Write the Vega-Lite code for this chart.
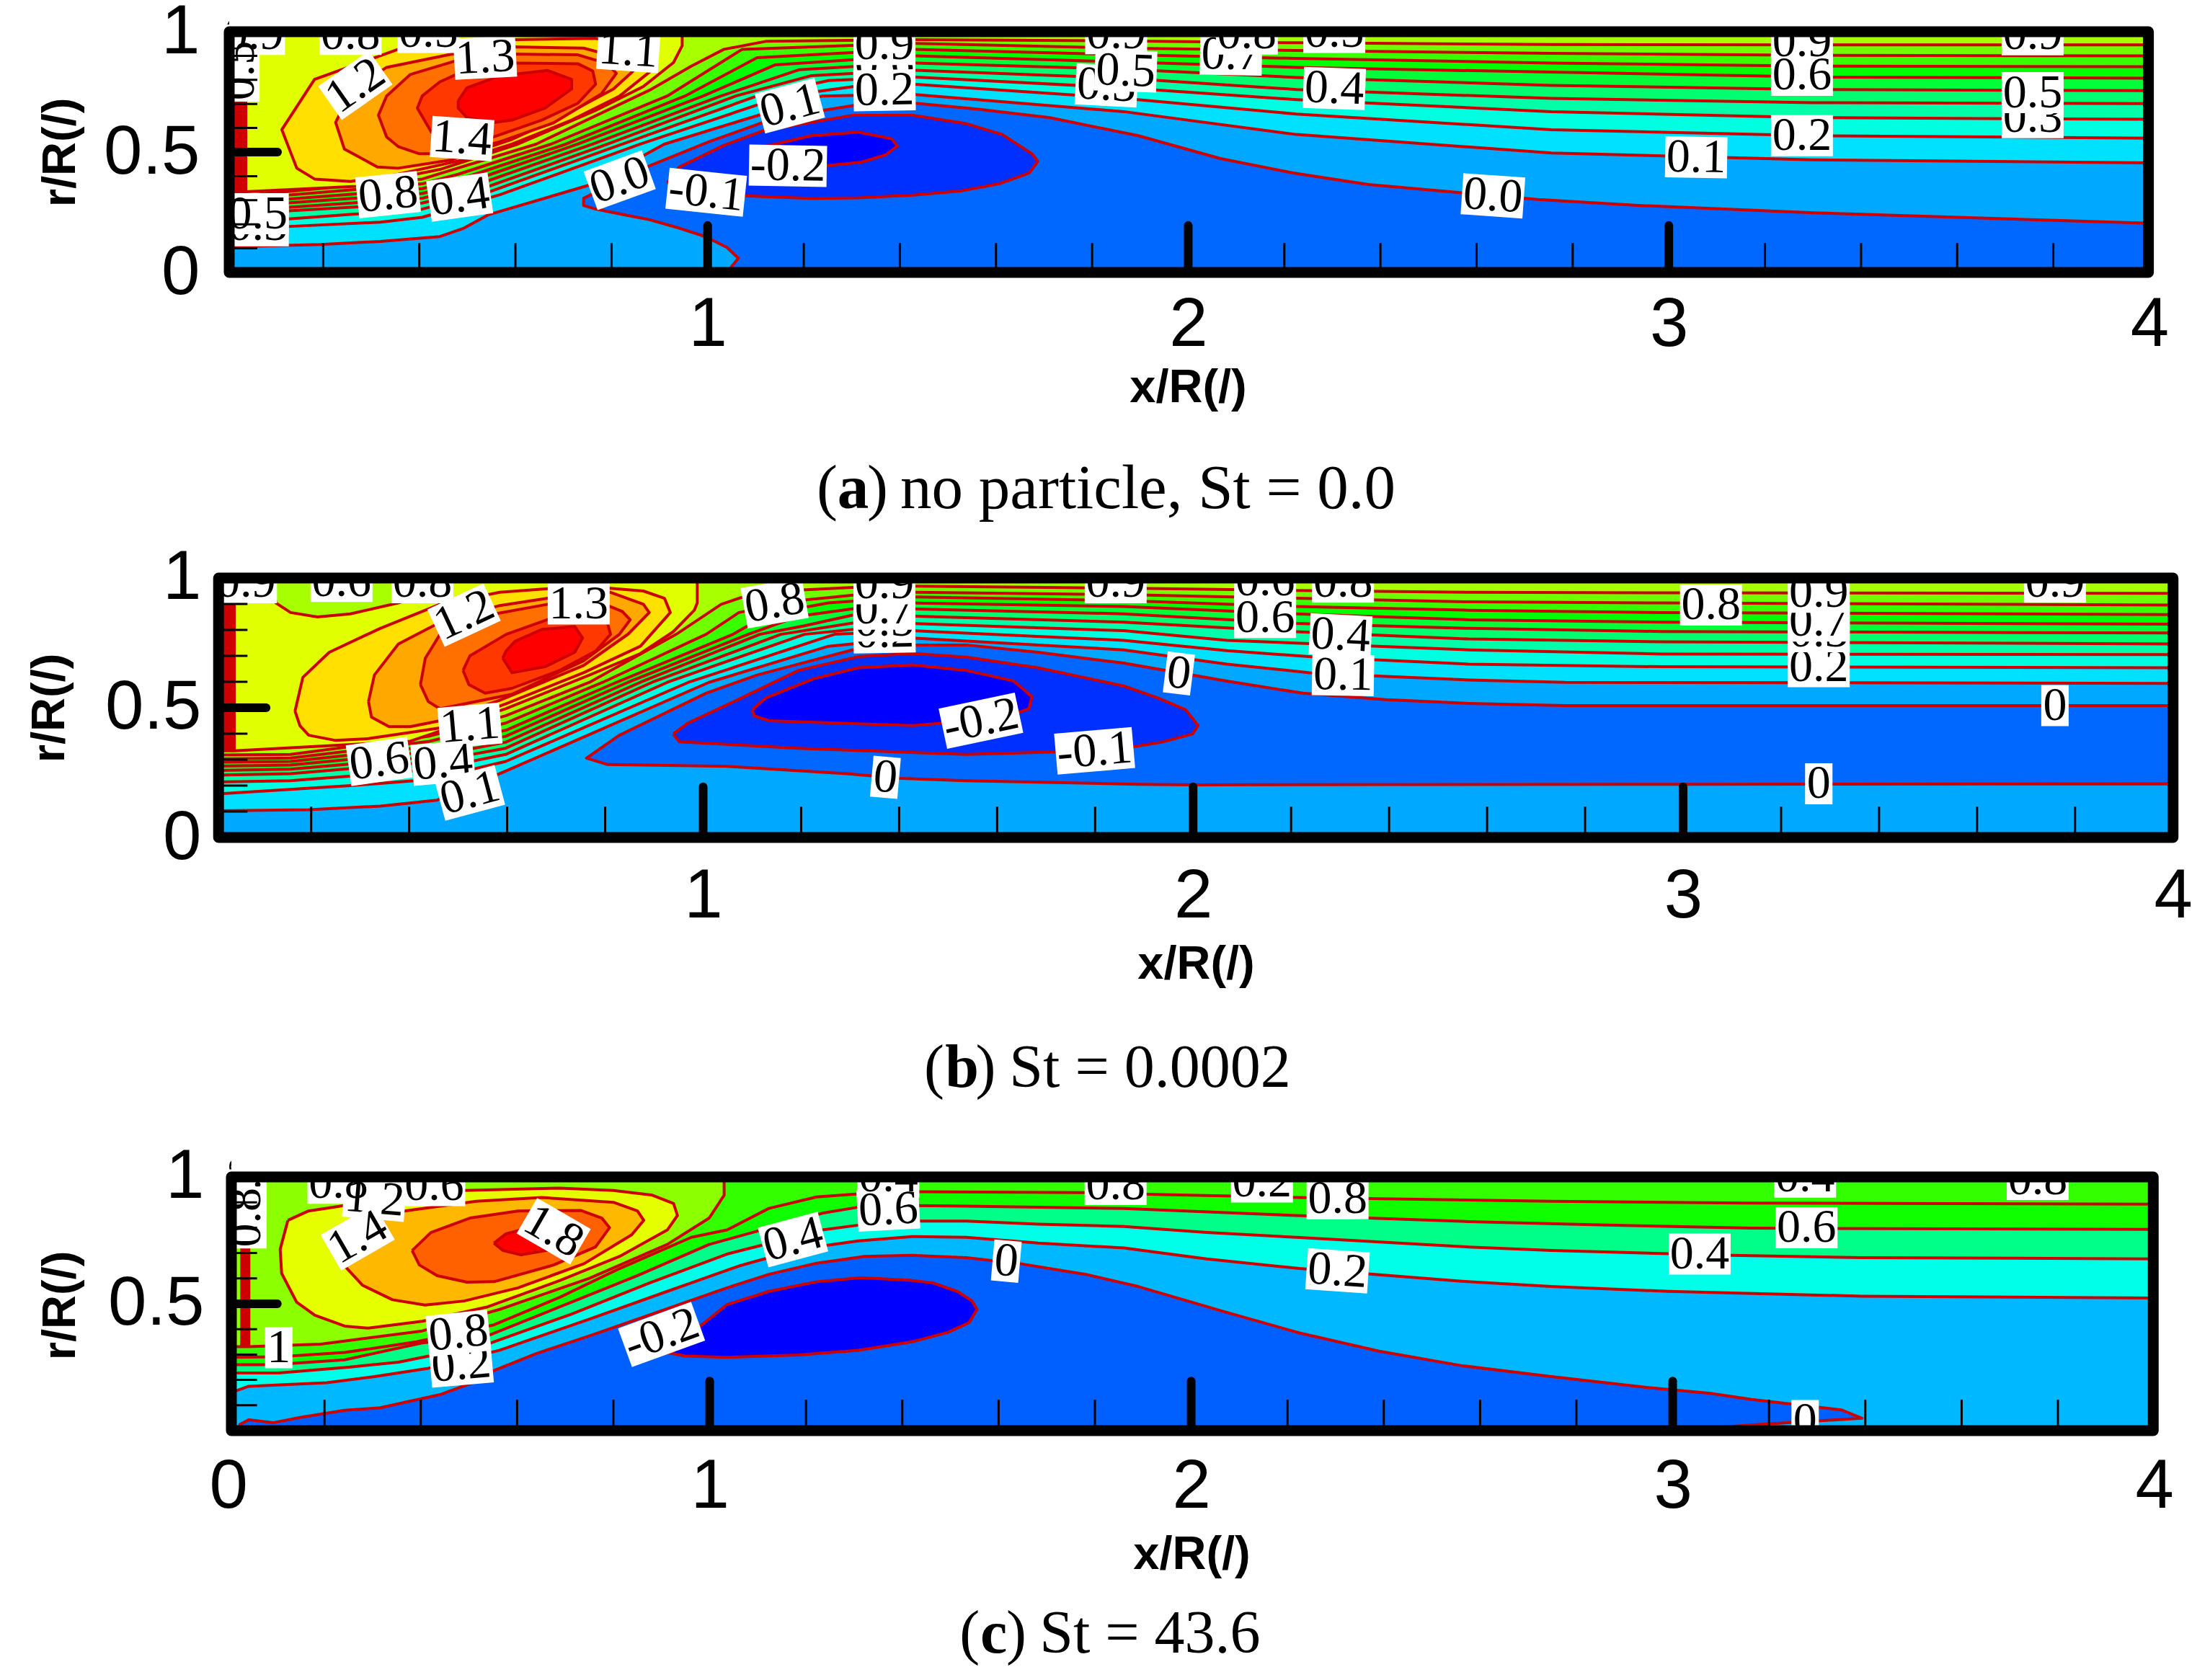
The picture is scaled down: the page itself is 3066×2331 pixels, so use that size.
{
"$schema":"https://vega.github.io/schema/vega-lite/v6.json",
"background":"white",
"padding":{"left":36,"top":-4,"right":0,"bottom":0},
"config":{"view":{"stroke":null},
"text":{"font":"Liberation Serif","fontSize":66,"fill":"black"},
"line":{"stroke":"#cc0000","strokeWidth":4,"strokeJoin":"round"},
"point":{"filled":true,"fill":"white","size":3249,"opacity":1,"strokeWidth":0},
"axis":{"grid":false,"domain":false,"ticks":false,"labelFont":"Liberation Sans","labelFontSize":96,"labelColor":"black","labelFlush":false,"labelOverlap":false,"labelBound":false,"titleFont":"Liberation Sans","titleFontSize":65,"titleFontWeight":"bold","titleColor":"black","titleAlign":"center","titleBaseline":"middle","format":"~g"}},
"datasets":{
"xMinor":[{"x":0.2},{"x":0.4},{"x":0.6},{"x":0.8},{"x":1.2},{"x":1.4},{"x":1.6},{"x":1.8},{"x":2.2},{"x":2.4},{"x":2.6},{"x":2.8},{"x":3.2},{"x":3.4},{"x":3.6},{"x":3.8}],
"xMajor":[{"x":1},{"x":2},{"x":3}],
"yMinor":[{"y":0.1},{"y":0.2},{"y":0.3},{"y":0.4},{"y":0.6},{"y":0.7},{"y":0.8},{"y":0.9}],
"yMajor":[{"y":0.5}],
"aMask":[{"x":0.0045,"x2":4.03,"y":1,"y2":1.13},{"x":-0.03,"x2":0.0045,"y":-0.03,"y2":1.03}],
"bMask":[{"x":0.011,"x2":4.01,"y":1,"y2":1.13},{"x":-0.0011,"x2":0.011,"y":-0.03,"y2":1.03}],
"cMask":[{"x":0.0066,"x2":4.04,"y":1,"y2":1.13},{"x":-0.0323,"x2":0.0066,"y":-0.03,"y2":1.03},{"x":0.0066,"x2":3.998,"y":-0.08,"y2":0}],
"aContours":[
{"c":"base","v":-0.1,"x":0,"y":0},{"c":"base","v":-0.1,"x":4,"y":0},{"c":"base","v":-0.1,"x":4,"y":1},{"c":"base","v":-0.1,"x":0,"y":1},
{"c":"l0","v":0,"x":0,"y":0},{"c":"l0","v":0,"x":1.04,"y":0},{"c":"l0","v":0,"x":1.064,"y":0.059},{"c":"l0","v":0,"x":1.04,"y":0.104},{"c":"l0","v":0,"x":0.995,"y":0.149},{"c":"l0","v":0,"x":0.941,"y":0.184},{"c":"l0","v":0,"x":0.879,"y":0.219},{"c":"l0","v":0,"x":0.817,"y":0.243},{"c":"l0","v":0,"x":0.767,"y":0.263},{"c":"l0","v":0,"x":0.742,"y":0.278},{"c":"l0","v":0,"x":0.742,"y":0.308},{"c":"l0","v":0,"x":0.879,"y":0.443},{"c":"l0","v":0,"x":1.003,"y":0.543},{"c":"l0","v":0,"x":1.115,"y":0.623},{"c":"l0","v":0,"x":1.239,"y":0.673},{"c":"l0","v":0,"x":1.308,"y":0.695},{"c":"l0","v":0,"x":1.432,"y":0.703},{"c":"l0","v":0,"x":1.563,"y":0.678},{"c":"l0","v":0,"x":1.712,"y":0.643},{"c":"l0","v":0,"x":1.896,"y":0.568},{"c":"l0","v":0,"x":2.067,"y":0.473},{"c":"l0","v":0,"x":2.218,"y":0.413},{"c":"l0","v":0,"x":2.375,"y":0.365},{"c":"l0","v":0,"x":2.727,"y":0.303},{"c":"l0","v":0,"x":2.942,"y":0.278},{"c":"l0","v":0,"x":3.301,"y":0.248},{"c":"l0","v":0,"x":4,"y":0.204},{"c":"l0","v":0,"x":4,"y":1},{"c":"l0","v":0,"x":0,"y":1},
{"c":"m1","v":-0.2,"x":0.916,"y":0.373},{"c":"m1","v":-0.2,"x":0.941,"y":0.438},{"c":"m1","v":-0.2,"x":1.034,"y":0.528},{"c":"m1","v":-0.2,"x":1.115,"y":0.588},{"c":"m1","v":-0.2,"x":1.302,"y":0.653},{"c":"m1","v":-0.2,"x":1.426,"y":0.653},{"c":"m1","v":-0.2,"x":1.538,"y":0.618},{"c":"m1","v":-0.2,"x":1.613,"y":0.573},{"c":"m1","v":-0.2,"x":1.675,"y":0.493},{"c":"m1","v":-0.2,"x":1.687,"y":0.461},{"c":"m1","v":-0.2,"x":1.669,"y":0.413},{"c":"m1","v":-0.2,"x":1.606,"y":0.368},{"c":"m1","v":-0.2,"x":1.525,"y":0.338},{"c":"m1","v":-0.2,"x":1.426,"y":0.321},{"c":"m1","v":-0.2,"x":1.314,"y":0.31},{"c":"m1","v":-0.2,"x":1.215,"y":0.308},{"c":"m1","v":-0.2,"x":1.078,"y":0.318},{"c":"m1","v":-0.2,"x":0.941,"y":0.348},{"c":"m1","v":-0.2,"x":0.916,"y":0.373},
{"c":"m2","v":-0.3,"x":1.121,"y":0.524},{"c":"m2","v":-0.3,"x":1.215,"y":0.568},{"c":"m2","v":-0.3,"x":1.314,"y":0.583},{"c":"m2","v":-0.3,"x":1.383,"y":0.555},{"c":"m2","v":-0.3,"x":1.395,"y":0.525},{"c":"m2","v":-0.3,"x":1.37,"y":0.488},{"c":"m2","v":-0.3,"x":1.32,"y":0.458},{"c":"m2","v":-0.3,"x":1.246,"y":0.443},{"c":"m2","v":-0.3,"x":1.14,"y":0.433},{"c":"m2","v":-0.3,"x":1.121,"y":0.524},
{"c":"p1","v":0.1,"x":0,"y":0.106},{"c":"p1","v":0.1,"x":0.195,"y":0.116},{"c":"p1","v":0.1,"x":0.319,"y":0.129},{"c":"p1","v":0.1,"x":0.443,"y":0.149},{"c":"p1","v":0.1,"x":0.493,"y":0.184},{"c":"p1","v":0.1,"x":0.543,"y":0.239},{"c":"p1","v":0.1,"x":0.754,"y":0.363},{"c":"p1","v":0.1,"x":0.91,"y":0.533},{"c":"p1","v":0.1,"x":1.065,"y":0.628},{"c":"p1","v":0.1,"x":1.239,"y":0.733},{"c":"p1","v":0.1,"x":1.426,"y":0.74},{"c":"p1","v":0.1,"x":1.866,"y":0.668},{"c":"p1","v":0.1,"x":2.225,"y":0.573},{"c":"p1","v":0.1,"x":2.756,"y":0.496},{"c":"p1","v":0.1,"x":3.301,"y":0.468},{"c":"p1","v":0.1,"x":4,"y":0.455},{"c":"p1","v":0.1,"x":4,"y":1},{"c":"p1","v":0.1,"x":0,"y":1},
{"c":"p2","v":0.2,"x":0,"y":0.189},{"c":"p2","v":0.2,"x":0.108,"y":0.189},{"c":"p2","v":0.2,"x":0.319,"y":0.209},{"c":"p2","v":0.2,"x":0.406,"y":0.229},{"c":"p2","v":0.2,"x":0.568,"y":0.323},{"c":"p2","v":0.2,"x":0.86,"y":0.533},{"c":"p2","v":0.2,"x":1.159,"y":0.733},{"c":"p2","v":0.2,"x":1.302,"y":0.772},{"c":"p2","v":0.2,"x":1.426,"y":0.782},{"c":"p2","v":0.2,"x":1.866,"y":0.723},{"c":"p2","v":0.2,"x":2.225,"y":0.658},{"c":"p2","v":0.2,"x":2.756,"y":0.593},{"c":"p2","v":0.2,"x":3.301,"y":0.568},{"c":"p2","v":0.2,"x":4,"y":0.558},{"c":"p2","v":0.2,"x":4,"y":1},{"c":"p2","v":0.2,"x":0,"y":1},
{"c":"p3","v":0.3,"x":0,"y":0.219},{"c":"p3","v":0.3,"x":0.108,"y":0.219},{"c":"p3","v":0.3,"x":0.406,"y":0.263},{"c":"p3","v":0.3,"x":0.543,"y":0.333},{"c":"p3","v":0.3,"x":0.823,"y":0.533},{"c":"p3","v":0.3,"x":1.103,"y":0.733},{"c":"p3","v":0.3,"x":1.252,"y":0.797},{"c":"p3","v":0.3,"x":1.426,"y":0.812},{"c":"p3","v":0.3,"x":1.866,"y":0.767},{"c":"p3","v":0.3,"x":2.225,"y":0.718},{"c":"p3","v":0.3,"x":2.756,"y":0.668},{"c":"p3","v":0.3,"x":3.301,"y":0.643},{"c":"p3","v":0.3,"x":4,"y":0.636},{"c":"p3","v":0.3,"x":4,"y":1},{"c":"p3","v":0.3,"x":0,"y":1},
{"c":"p4","v":0.4,"x":0,"y":0.241},{"c":"p4","v":0.4,"x":0.406,"y":0.288},{"c":"p4","v":0.4,"x":0.531,"y":0.348},{"c":"p4","v":0.4,"x":0.792,"y":0.533},{"c":"p4","v":0.4,"x":1.059,"y":0.733},{"c":"p4","v":0.4,"x":1.215,"y":0.817},{"c":"p4","v":0.4,"x":1.426,"y":0.84},{"c":"p4","v":0.4,"x":1.866,"y":0.807},{"c":"p4","v":0.4,"x":2.225,"y":0.76},{"c":"p4","v":0.4,"x":2.756,"y":0.723},{"c":"p4","v":0.4,"x":3.301,"y":0.705},{"c":"p4","v":0.4,"x":4,"y":0.701},{"c":"p4","v":0.4,"x":4,"y":1},{"c":"p4","v":0.4,"x":0,"y":1},
{"c":"p5","v":0.5,"x":0,"y":0.253},{"c":"p5","v":0.5,"x":0.406,"y":0.308},{"c":"p5","v":0.5,"x":0.518,"y":0.363},{"c":"p5","v":0.5,"x":0.761,"y":0.533},{"c":"p5","v":0.5,"x":1.028,"y":0.733},{"c":"p5","v":0.5,"x":1.19,"y":0.842},{"c":"p5","v":0.5,"x":1.426,"y":0.87},{"c":"p5","v":0.5,"x":1.866,"y":0.844},{"c":"p5","v":0.5,"x":2.225,"y":0.81},{"c":"p5","v":0.5,"x":2.756,"y":0.777},{"c":"p5","v":0.5,"x":3.301,"y":0.76},{"c":"p5","v":0.5,"x":4,"y":0.755},{"c":"p5","v":0.5,"x":4,"y":1},{"c":"p5","v":0.5,"x":0,"y":1},
{"c":"p6","v":0.6,"x":0,"y":0.271},{"c":"p6","v":0.6,"x":0.406,"y":0.328},{"c":"p6","v":0.6,"x":0.506,"y":0.378},{"c":"p6","v":0.6,"x":0.73,"y":0.533},{"c":"p6","v":0.6,"x":0.991,"y":0.733},{"c":"p6","v":0.6,"x":1.14,"y":0.862},{"c":"p6","v":0.6,"x":1.426,"y":0.9},{"c":"p6","v":0.6,"x":1.866,"y":0.874},{"c":"p6","v":0.6,"x":2.225,"y":0.852},{"c":"p6","v":0.6,"x":2.756,"y":0.832},{"c":"p6","v":0.6,"x":3.301,"y":0.812},{"c":"p6","v":0.6,"x":4,"y":0.807},{"c":"p6","v":0.6,"x":4,"y":1},{"c":"p6","v":0.6,"x":0,"y":1},
{"c":"p7","v":0.7,"x":0,"y":0.285},{"c":"p7","v":0.7,"x":0.406,"y":0.348},{"c":"p7","v":0.7,"x":0.493,"y":0.393},{"c":"p7","v":0.7,"x":0.705,"y":0.533},{"c":"p7","v":0.7,"x":0.953,"y":0.733},{"c":"p7","v":0.7,"x":1.103,"y":0.892},{"c":"p7","v":0.7,"x":1.426,"y":0.927},{"c":"p7","v":0.7,"x":1.866,"y":0.905},{"c":"p7","v":0.7,"x":2.225,"y":0.889},{"c":"p7","v":0.7,"x":2.756,"y":0.87},{"c":"p7","v":0.7,"x":3.301,"y":0.857},{"c":"p7","v":0.7,"x":4,"y":0.855},{"c":"p7","v":0.7,"x":4,"y":1},{"c":"p7","v":0.7,"x":0,"y":1},
{"c":"p8","v":0.8,"x":0,"y":0.3},{"c":"p8","v":0.8,"x":0.406,"y":0.368},{"c":"p8","v":0.8,"x":0.481,"y":0.408},{"c":"p8","v":0.8,"x":0.674,"y":0.533},{"c":"p8","v":0.8,"x":0.916,"y":0.733},{"c":"p8","v":0.8,"x":1.072,"y":0.927},{"c":"p8","v":0.8,"x":1.426,"y":0.952},{"c":"p8","v":0.8,"x":1.866,"y":0.932},{"c":"p8","v":0.8,"x":2.225,"y":0.922},{"c":"p8","v":0.8,"x":2.756,"y":0.91},{"c":"p8","v":0.8,"x":3.301,"y":0.902},{"c":"p8","v":0.8,"x":4,"y":0.9},{"c":"p8","v":0.8,"x":4,"y":1},{"c":"p8","v":0.8,"x":0,"y":1},
{"c":"p9","v":0.9,"x":0,"y":0.313},{"c":"p9","v":0.9,"x":0.406,"y":0.388},{"c":"p9","v":0.9,"x":0.643,"y":0.533},{"c":"p9","v":0.9,"x":0.879,"y":0.757},{"c":"p9","v":0.9,"x":0.966,"y":0.857},{"c":"p9","v":0.9,"x":1.034,"y":0.927},{"c":"p9","v":0.9,"x":1.121,"y":0.96},{"c":"p9","v":0.9,"x":1.426,"y":0.967},{"c":"p9","v":0.9,"x":1.866,"y":0.962},{"c":"p9","v":0.9,"x":2.225,"y":0.954},{"c":"p9","v":0.9,"x":2.756,"y":0.947},{"c":"p9","v":0.9,"x":3.301,"y":0.945},{"c":"p9","v":0.9,"x":4,"y":0.945},{"c":"p9","v":0.9,"x":4,"y":1},{"c":"p9","v":0.9,"x":0,"y":1},
{"c":"p10","v":1.0,"x":0,"y":0.335},{"c":"p10","v":1.0,"x":0.039,"y":0.335},{"c":"p10","v":1.0,"x":0.269,"y":0.358},{"c":"p10","v":1.0,"x":0.443,"y":0.428},{"c":"p10","v":1.0,"x":0.605,"y":0.533},{"c":"p10","v":1.0,"x":0.767,"y":0.673},{"c":"p10","v":1.0,"x":0.866,"y":0.772},{"c":"p10","v":1.0,"x":0.929,"y":0.872},{"c":"p10","v":1.0,"x":0.947,"y":0.942},{"c":"p10","v":1.0,"x":0.947,"y":1},{"c":"p10","v":1.0,"x":0,"y":1},
{"c":"p11","v":1.1,"x":0.599,"y":0.967},{"c":"p11","v":1.1,"x":0.767,"y":0.972},{"c":"p11","v":1.1,"x":0.866,"y":0.932},{"c":"p11","v":1.1,"x":0.888,"y":0.847},{"c":"p11","v":1.1,"x":0.817,"y":0.733},{"c":"p11","v":1.1,"x":0.717,"y":0.633},{"c":"p11","v":1.1,"x":0.593,"y":0.533},{"c":"p11","v":1.1,"x":0.481,"y":0.463},{"c":"p11","v":1.1,"x":0.356,"y":0.408},{"c":"p11","v":1.1,"x":0.257,"y":0.378},{"c":"p11","v":1.1,"x":0.182,"y":0.388},{"c":"p11","v":1.1,"x":0.145,"y":0.433},{"c":"p11","v":1.1,"x":0.114,"y":0.593},{"c":"p11","v":1.1,"x":0.182,"y":0.802},{"c":"p11","v":1.1,"x":0.356,"y":0.927},{"c":"p11","v":1.1,"x":0.468,"y":0.957},{"c":"p11","v":1.1,"x":0.599,"y":0.967},
{"c":"p12","v":1.2,"x":0.599,"y":0.937},{"c":"p12","v":1.2,"x":0.742,"y":0.932},{"c":"p12","v":1.2,"x":0.817,"y":0.892},{"c":"p12","v":1.2,"x":0.848,"y":0.842},{"c":"p12","v":1.2,"x":0.804,"y":0.762},{"c":"p12","v":1.2,"x":0.692,"y":0.643},{"c":"p12","v":1.2,"x":0.593,"y":0.553},{"c":"p12","v":1.2,"x":0.468,"y":0.468},{"c":"p12","v":1.2,"x":0.356,"y":0.433},{"c":"p12","v":1.2,"x":0.313,"y":0.438},{"c":"p12","v":1.2,"x":0.244,"y":0.513},{"c":"p12","v":1.2,"x":0.226,"y":0.623},{"c":"p12","v":1.2,"x":0.257,"y":0.752},{"c":"p12","v":1.2,"x":0.332,"y":0.852},{"c":"p12","v":1.2,"x":0.468,"y":0.907},{"c":"p12","v":1.2,"x":0.599,"y":0.937},
{"c":"p13","v":1.3,"x":0.599,"y":0.907},{"c":"p13","v":1.3,"x":0.73,"y":0.904},{"c":"p13","v":1.3,"x":0.792,"y":0.867},{"c":"p13","v":1.3,"x":0.81,"y":0.827},{"c":"p13","v":1.3,"x":0.779,"y":0.742},{"c":"p13","v":1.3,"x":0.68,"y":0.622},{"c":"p13","v":1.3,"x":0.568,"y":0.543},{"c":"p13","v":1.3,"x":0.468,"y":0.493},{"c":"p13","v":1.3,"x":0.4,"y":0.493},{"c":"p13","v":1.3,"x":0.356,"y":0.523},{"c":"p13","v":1.3,"x":0.332,"y":0.563},{"c":"p13","v":1.3,"x":0.315,"y":0.653},{"c":"p13","v":1.3,"x":0.332,"y":0.733},{"c":"p13","v":1.3,"x":0.381,"y":0.822},{"c":"p13","v":1.3,"x":0.481,"y":0.882},{"c":"p13","v":1.3,"x":0.599,"y":0.907},
{"c":"p14","v":1.4,"x":0.599,"y":0.87},{"c":"p14","v":1.4,"x":0.73,"y":0.867},{"c":"p14","v":1.4,"x":0.761,"y":0.837},{"c":"p14","v":1.4,"x":0.767,"y":0.782},{"c":"p14","v":1.4,"x":0.73,"y":0.703},{"c":"p14","v":1.4,"x":0.655,"y":0.633},{"c":"p14","v":1.4,"x":0.555,"y":0.563},{"c":"p14","v":1.4,"x":0.468,"y":0.533},{"c":"p14","v":1.4,"x":0.425,"y":0.583},{"c":"p14","v":1.4,"x":0.396,"y":0.683},{"c":"p14","v":1.4,"x":0.406,"y":0.733},{"c":"p14","v":1.4,"x":0.443,"y":0.792},{"c":"p14","v":1.4,"x":0.493,"y":0.837},{"c":"p14","v":1.4,"x":0.599,"y":0.87},
{"c":"p15","v":1.5,"x":0.481,"y":0.713},{"c":"p15","v":1.5,"x":0.499,"y":0.767},{"c":"p15","v":1.5,"x":0.568,"y":0.817},{"c":"p15","v":1.5,"x":0.667,"y":0.839},{"c":"p15","v":1.5,"x":0.717,"y":0.802},{"c":"p15","v":1.5,"x":0.717,"y":0.762},{"c":"p15","v":1.5,"x":0.662,"y":0.683},{"c":"p15","v":1.5,"x":0.593,"y":0.633},{"c":"p15","v":1.5,"x":0.555,"y":0.623},{"c":"p15","v":1.5,"x":0.499,"y":0.643},{"c":"p15","v":1.5,"x":0.481,"y":0.683},{"c":"p15","v":1.5,"x":0.481,"y":0.713},
{"c":"strip","v":1.6,"x":0,"y":0.332},{"c":"strip","v":1.6,"x":0.039,"y":0.332},{"c":"strip","v":1.6,"x":0.039,"y":0.775},{"c":"strip","v":1.6,"x":0,"y":0.775}
],
"aLabels":[
{"t":1,"label":"0.6","x":1.368,"y":0.867,"a":0},{"t":1,"label":"0.3","x":1.83,"y":0.777,"a":3},{"t":1,"label":"0.3","x":0.064,"y":0.194,"a":0},{"t":1,"label":"0.7","x":2.089,"y":0.905,"a":1},{"t":1,"label":"0.3","x":3.757,"y":0.643,"a":0},
{"t":2,"label":"0.9","x":0.056,"y":0.989,"a":0},{"t":2,"label":"0.5","x":0.025,"y":0.838,"a":-90},{"t":2,"label":"0.8","x":0.257,"y":0.989,"a":0},{"t":2,"label":"0.5","x":0.419,"y":0.997,"a":0},{"t":2,"label":"1.3","x":0.537,"y":0.892,"a":-3},{"t":2,"label":"1.1","x":0.835,"y":0.922,"a":4},{"t":2,"label":"1.2","x":0.267,"y":0.777,"a":-35},{"t":2,"label":"1.4","x":0.489,"y":0.556,"a":4},{"t":2,"label":"0.8","x":0.335,"y":0.323,"a":-6},{"t":2,"label":"0.4","x":0.484,"y":0.313,"a":-8},{"t":2,"label":"0.0","x":0.817,"y":0.383,"a":-20},{"t":2,"label":"-0.1","x":0.997,"y":0.333,"a":6},{"t":2,"label":"-0.2","x":1.167,"y":0.443,"a":1},{"t":2,"label":"0.1","x":1.171,"y":0.693,"a":-15},{"t":2,"label":"0.9","x":1.368,"y":0.947,"a":0},{"t":2,"label":"0.2","x":1.368,"y":0.757,"a":-1},{"t":2,"label":"0.5","x":0.064,"y":0.244,"a":0},{"t":2,"label":"0.9","x":1.85,"y":0.992,"a":0},{"t":2,"label":"0.5","x":1.87,"y":0.837,"a":2},{"t":2,"label":"0.8","x":2.122,"y":0.99,"a":0},{"t":2,"label":"0.5","x":2.304,"y":0.997,"a":0},{"t":2,"label":"0.4","x":2.304,"y":0.764,"a":2},{"t":2,"label":"0.9","x":3.277,"y":0.957,"a":0},{"t":2,"label":"0.6","x":3.277,"y":0.819,"a":0},{"t":2,"label":"0.2","x":3.277,"y":0.568,"a":0},{"t":2,"label":"0.1","x":3.057,"y":0.478,"a":1},{"t":2,"label":"0.0","x":2.634,"y":0.318,"a":4},{"t":2,"label":"0.9","x":3.757,"y":0.987,"a":0},{"t":2,"label":"0.5","x":3.757,"y":0.747,"a":0}
],
"aFrame":[{"x":0.0045,"y":0,"x2":3.998,"y2":1}],
"bContours":[
{"c":"base","v":-0.1,"x":0.011,"y":0},{"c":"base","v":-0.1,"x":4,"y":0},{"c":"base","v":-0.1,"x":4,"y":1},{"c":"base","v":-0.1,"x":0.011,"y":1},
{"c":"l0","v":0,"x":0.011,"y":0},{"c":"l0","v":0,"x":4,"y":0},{"c":"l0","v":0,"x":4,"y":0.207},{"c":"l0","v":0,"x":3,"y":0.205},{"c":"l0","v":0,"x":2,"y":0.203},{"c":"l0","v":0,"x":1.888,"y":0.205},{"c":"l0","v":0,"x":1.537,"y":0.219},{"c":"l0","v":0,"x":1.403,"y":0.228},{"c":"l0","v":0,"x":1.293,"y":0.246},{"c":"l0","v":0,"x":1.049,"y":0.274},{"c":"l0","v":0,"x":0.805,"y":0.281},{"c":"l0","v":0,"x":0.762,"y":0.306},{"c":"l0","v":0,"x":0.829,"y":0.394},{"c":"l0","v":0,"x":1.006,"y":0.556},{"c":"l0","v":0,"x":1.11,"y":0.626},{"c":"l0","v":0,"x":1.22,"y":0.681},{"c":"l0","v":0,"x":1.305,"y":0.723},{"c":"l0","v":0,"x":1.427,"y":0.742},{"c":"l0","v":0,"x":1.537,"y":0.742},{"c":"l0","v":0,"x":1.683,"y":0.714},{"c":"l0","v":0,"x":1.858,"y":0.672},{"c":"l0","v":0,"x":2.069,"y":0.603},{"c":"l0","v":0,"x":2.224,"y":0.556},{"c":"l0","v":0,"x":2.393,"y":0.531},{"c":"l0","v":0,"x":2.562,"y":0.517},{"c":"l0","v":0,"x":2.759,"y":0.508},{"c":"l0","v":0,"x":4,"y":0.508},{"c":"l0","v":0,"x":4,"y":1},{"c":"l0","v":0,"x":0.011,"y":1},
{"c":"m1","v":-0.2,"x":0.939,"y":0.399},{"c":"m1","v":-0.2,"x":0.969,"y":0.441},{"c":"m1","v":-0.2,"x":1.073,"y":0.533},{"c":"m1","v":-0.2,"x":1.195,"y":0.644},{"c":"m1","v":-0.2,"x":1.317,"y":0.697},{"c":"m1","v":-0.2,"x":1.427,"y":0.709},{"c":"m1","v":-0.2,"x":1.537,"y":0.695},{"c":"m1","v":-0.2,"x":1.683,"y":0.654},{"c":"m1","v":-0.2,"x":1.858,"y":0.584},{"c":"m1","v":-0.2,"x":1.928,"y":0.538},{"c":"m1","v":-0.2,"x":1.985,"y":0.492},{"c":"m1","v":-0.2,"x":2.01,"y":0.431},{"c":"m1","v":-0.2,"x":1.999,"y":0.399},{"c":"m1","v":-0.2,"x":1.935,"y":0.367},{"c":"m1","v":-0.2,"x":1.879,"y":0.35},{"c":"m1","v":-0.2,"x":1.72,"y":0.33},{"c":"m1","v":-0.2,"x":1.537,"y":0.32},{"c":"m1","v":-0.2,"x":1.195,"y":0.344},{"c":"m1","v":-0.2,"x":0.951,"y":0.369},{"c":"m1","v":-0.2,"x":0.939,"y":0.399},
{"c":"m2","v":-0.3,"x":1.1,"y":0.492},{"c":"m2","v":-0.3,"x":1.128,"y":0.538},{"c":"m2","v":-0.3,"x":1.226,"y":0.612},{"c":"m2","v":-0.3,"x":1.317,"y":0.654},{"c":"m2","v":-0.3,"x":1.427,"y":0.665},{"c":"m2","v":-0.3,"x":1.537,"y":0.644},{"c":"m2","v":-0.3,"x":1.634,"y":0.603},{"c":"m2","v":-0.3,"x":1.671,"y":0.543},{"c":"m2","v":-0.3,"x":1.665,"y":0.496},{"c":"m2","v":-0.3,"x":1.61,"y":0.459},{"c":"m2","v":-0.3,"x":1.488,"y":0.441},{"c":"m2","v":-0.3,"x":1.427,"y":0.431},{"c":"m2","v":-0.3,"x":1.305,"y":0.439},{"c":"m2","v":-0.3,"x":1.134,"y":0.45},{"c":"m2","v":-0.3,"x":1.104,"y":0.469},{"c":"m2","v":-0.3,"x":1.1,"y":0.492},
{"c":"p1","v":0.1,"x":0.011,"y":0.103},{"c":"p1","v":0.1,"x":0.195,"y":0.107},{"c":"p1","v":0.1,"x":0.341,"y":0.121},{"c":"p1","v":0.1,"x":0.457,"y":0.144},{"c":"p1","v":0.1,"x":0.597,"y":0.256},{"c":"p1","v":0.1,"x":1.012,"y":0.598},{"c":"p1","v":0.1,"x":1.256,"y":0.737},{"c":"p1","v":0.1,"x":1.427,"y":0.769},{"c":"p1","v":0.1,"x":1.858,"y":0.723},{"c":"p1","v":0.1,"x":2.069,"y":0.668},{"c":"p1","v":0.1,"x":2.238,"y":0.635},{"c":"p1","v":0.1,"x":2.393,"y":0.621},{"c":"p1","v":0.1,"x":2.562,"y":0.607},{"c":"p1","v":0.1,"x":2.759,"y":0.598},{"c":"p1","v":0.1,"x":4,"y":0.594},{"c":"p1","v":0.1,"x":4,"y":1},{"c":"p1","v":0.1,"x":0.011,"y":1},
{"c":"p2","v":0.2,"x":0.011,"y":0.168},{"c":"p2","v":0.2,"x":0.281,"y":0.2},{"c":"p2","v":0.2,"x":0.44,"y":0.223},{"c":"p2","v":0.2,"x":0.597,"y":0.293},{"c":"p2","v":0.2,"x":0.97,"y":0.598},{"c":"p2","v":0.2,"x":1.268,"y":0.783},{"c":"p2","v":0.2,"x":1.427,"y":0.797},{"c":"p2","v":0.2,"x":1.858,"y":0.76},{"c":"p2","v":0.2,"x":2.069,"y":0.72},{"c":"p2","v":0.2,"x":2.252,"y":0.695},{"c":"p2","v":0.2,"x":2.562,"y":0.668},{"c":"p2","v":0.2,"x":2.956,"y":0.658},{"c":"p2","v":0.2,"x":4,"y":0.654},{"c":"p2","v":0.2,"x":4,"y":1},{"c":"p2","v":0.2,"x":0.011,"y":1},
{"c":"p3","v":0.3,"x":0.011,"y":0.214},{"c":"p3","v":0.3,"x":0.158,"y":0.219},{"c":"p3","v":0.3,"x":0.44,"y":0.26},{"c":"p3","v":0.3,"x":0.597,"y":0.32},{"c":"p3","v":0.3,"x":0.927,"y":0.598},{"c":"p3","v":0.3,"x":1.207,"y":0.783},{"c":"p3","v":0.3,"x":1.427,"y":0.825},{"c":"p3","v":0.3,"x":1.858,"y":0.797},{"c":"p3","v":0.3,"x":2.069,"y":0.76},{"c":"p3","v":0.3,"x":2.562,"y":0.723},{"c":"p3","v":0.3,"x":2.956,"y":0.707},{"c":"p3","v":0.3,"x":4,"y":0.705},{"c":"p3","v":0.3,"x":4,"y":1},{"c":"p3","v":0.3,"x":0.011,"y":1},
{"c":"p4","v":0.4,"x":0.011,"y":0.24},{"c":"p4","v":0.4,"x":0.158,"y":0.246},{"c":"p4","v":0.4,"x":0.44,"y":0.29},{"c":"p4","v":0.4,"x":0.597,"y":0.344},{"c":"p4","v":0.4,"x":0.896,"y":0.598},{"c":"p4","v":0.4,"x":1.159,"y":0.783},{"c":"p4","v":0.4,"x":1.317,"y":0.83},{"c":"p4","v":0.4,"x":1.427,"y":0.853},{"c":"p4","v":0.4,"x":1.858,"y":0.83},{"c":"p4","v":0.4,"x":2.21,"y":0.793},{"c":"p4","v":0.4,"x":2.562,"y":0.765},{"c":"p4","v":0.4,"x":2.956,"y":0.754},{"c":"p4","v":0.4,"x":4,"y":0.746},{"c":"p4","v":0.4,"x":4,"y":1},{"c":"p4","v":0.4,"x":0.011,"y":1},
{"c":"p5","v":0.5,"x":0.011,"y":0.258},{"c":"p5","v":0.5,"x":0.158,"y":0.263},{"c":"p5","v":0.5,"x":0.44,"y":0.31},{"c":"p5","v":0.5,"x":0.597,"y":0.367},{"c":"p5","v":0.5,"x":0.872,"y":0.598},{"c":"p5","v":0.5,"x":1.116,"y":0.783},{"c":"p5","v":0.5,"x":1.207,"y":0.816},{"c":"p5","v":0.5,"x":1.305,"y":0.857},{"c":"p5","v":0.5,"x":1.427,"y":0.881},{"c":"p5","v":0.5,"x":1.858,"y":0.862},{"c":"p5","v":0.5,"x":2.21,"y":0.825},{"c":"p5","v":0.5,"x":2.562,"y":0.806},{"c":"p5","v":0.5,"x":2.956,"y":0.794},{"c":"p5","v":0.5,"x":4,"y":0.788},{"c":"p5","v":0.5,"x":4,"y":1},{"c":"p5","v":0.5,"x":0.011,"y":1},
{"c":"p6","v":0.6,"x":0.011,"y":0.275},{"c":"p6","v":0.6,"x":0.158,"y":0.279},{"c":"p6","v":0.6,"x":0.44,"y":0.33},{"c":"p6","v":0.6,"x":0.597,"y":0.39},{"c":"p6","v":0.6,"x":0.847,"y":0.598},{"c":"p6","v":0.6,"x":1.092,"y":0.783},{"c":"p6","v":0.6,"x":1.195,"y":0.853},{"c":"p6","v":0.6,"x":1.305,"y":0.881},{"c":"p6","v":0.6,"x":1.427,"y":0.904},{"c":"p6","v":0.6,"x":1.858,"y":0.89},{"c":"p6","v":0.6,"x":2.21,"y":0.862},{"c":"p6","v":0.6,"x":2.562,"y":0.839},{"c":"p6","v":0.6,"x":2.956,"y":0.83},{"c":"p6","v":0.6,"x":4,"y":0.822},{"c":"p6","v":0.6,"x":4,"y":1},{"c":"p6","v":0.6,"x":0.011,"y":1},
{"c":"p7","v":0.7,"x":0.011,"y":0.29},{"c":"p7","v":0.7,"x":0.158,"y":0.293},{"c":"p7","v":0.7,"x":0.44,"y":0.35},{"c":"p7","v":0.7,"x":0.597,"y":0.413},{"c":"p7","v":0.7,"x":0.823,"y":0.598},{"c":"p7","v":0.7,"x":1.061,"y":0.783},{"c":"p7","v":0.7,"x":1.134,"y":0.862},{"c":"p7","v":0.7,"x":1.256,"y":0.904},{"c":"p7","v":0.7,"x":1.427,"y":0.927},{"c":"p7","v":0.7,"x":1.858,"y":0.913},{"c":"p7","v":0.7,"x":2.21,"y":0.89},{"c":"p7","v":0.7,"x":2.562,"y":0.876},{"c":"p7","v":0.7,"x":2.956,"y":0.867},{"c":"p7","v":0.7,"x":4,"y":0.859},{"c":"p7","v":0.7,"x":4,"y":1},{"c":"p7","v":0.7,"x":0.011,"y":1},
{"c":"p8","v":0.8,"x":0.011,"y":0.303},{"c":"p8","v":0.8,"x":0.158,"y":0.306},{"c":"p8","v":0.8,"x":0.44,"y":0.37},{"c":"p8","v":0.8,"x":0.597,"y":0.441},{"c":"p8","v":0.8,"x":0.795,"y":0.598},{"c":"p8","v":0.8,"x":1.006,"y":0.783},{"c":"p8","v":0.8,"x":1.073,"y":0.867},{"c":"p8","v":0.8,"x":1.195,"y":0.913},{"c":"p8","v":0.8,"x":1.317,"y":0.936},{"c":"p8","v":0.8,"x":1.427,"y":0.945},{"c":"p8","v":0.8,"x":1.858,"y":0.936},{"c":"p8","v":0.8,"x":2.21,"y":0.922},{"c":"p8","v":0.8,"x":2.562,"y":0.908},{"c":"p8","v":0.8,"x":2.956,"y":0.904},{"c":"p8","v":0.8,"x":4,"y":0.896},{"c":"p8","v":0.8,"x":4,"y":1},{"c":"p8","v":0.8,"x":0.011,"y":1},
{"c":"p9","v":0.9,"x":0.011,"y":0.318},{"c":"p9","v":0.9,"x":0.158,"y":0.32},{"c":"p9","v":0.9,"x":0.44,"y":0.39},{"c":"p9","v":0.9,"x":0.597,"y":0.469},{"c":"p9","v":0.9,"x":0.768,"y":0.598},{"c":"p9","v":0.9,"x":0.945,"y":0.783},{"c":"p9","v":0.9,"x":1.037,"y":0.899},{"c":"p9","v":0.9,"x":1.11,"y":0.945},{"c":"p9","v":0.9,"x":1.305,"y":0.964},{"c":"p9","v":0.9,"x":1.427,"y":0.969},{"c":"p9","v":0.9,"x":1.858,"y":0.961},{"c":"p9","v":0.9,"x":2.21,"y":0.952},{"c":"p9","v":0.9,"x":2.562,"y":0.945},{"c":"p9","v":0.9,"x":2.956,"y":0.943},{"c":"p9","v":0.9,"x":4,"y":0.941},{"c":"p9","v":0.9,"x":4,"y":1},{"c":"p9","v":0.9,"x":0.011,"y":1},
{"c":"p10","v":1.0,"x":0.011,"y":0.334},{"c":"p10","v":1.0,"x":0.043,"y":0.334},{"c":"p10","v":1.0,"x":0.402,"y":0.371},{"c":"p10","v":1.0,"x":0.597,"y":0.496},{"c":"p10","v":1.0,"x":0.768,"y":0.626},{"c":"p10","v":1.0,"x":0.872,"y":0.709},{"c":"p10","v":1.0,"x":0.939,"y":0.793},{"c":"p10","v":1.0,"x":0.982,"y":0.876},{"c":"p10","v":1.0,"x":0.988,"y":0.904},{"c":"p10","v":1.0,"x":0.988,"y":1},{"c":"p10","v":1.0,"x":0.011,"y":1},
{"c":"hole","v":0.9,"x":0.122,"y":1},{"c":"hole","v":0.9,"x":0.122,"y":0.978},{"c":"hole","v":0.9,"x":0.128,"y":0.904},{"c":"hole","v":0.9,"x":0.158,"y":0.867},{"c":"hole","v":0.9,"x":0.213,"y":0.85},{"c":"hole","v":0.9,"x":0.28,"y":0.862},{"c":"hole","v":0.9,"x":0.378,"y":0.904},{"c":"hole","v":0.9,"x":0.439,"y":0.941},{"c":"hole","v":0.9,"x":0.463,"y":0.973},{"c":"hole","v":0.9,"x":0.463,"y":1},
{"c":"p11","v":1.1,"x":0.167,"y":0.487},{"c":"p11","v":1.1,"x":0.177,"y":0.431},{"c":"p11","v":1.1,"x":0.195,"y":0.394},{"c":"p11","v":1.1,"x":0.25,"y":0.374},{"c":"p11","v":1.1,"x":0.317,"y":0.381},{"c":"p11","v":1.1,"x":0.463,"y":0.422},{"c":"p11","v":1.1,"x":0.597,"y":0.515},{"c":"p11","v":1.1,"x":0.756,"y":0.635},{"c":"p11","v":1.1,"x":0.872,"y":0.737},{"c":"p11","v":1.1,"x":0.933,"y":0.867},{"c":"p11","v":1.1,"x":0.921,"y":0.922},{"c":"p11","v":1.1,"x":0.878,"y":0.95},{"c":"p11","v":1.1,"x":0.756,"y":0.969},{"c":"p11","v":1.1,"x":0.585,"y":0.945},{"c":"p11","v":1.1,"x":0.463,"y":0.899},{"c":"p11","v":1.1,"x":0.341,"y":0.806},{"c":"p11","v":1.1,"x":0.237,"y":0.714},{"c":"p11","v":1.1,"x":0.183,"y":0.617},{"c":"p11","v":1.1,"x":0.167,"y":0.487},
{"c":"p12","v":1.2,"x":0.317,"y":0.524},{"c":"p12","v":1.2,"x":0.323,"y":0.464},{"c":"p12","v":1.2,"x":0.359,"y":0.427},{"c":"p12","v":1.2,"x":0.402,"y":0.427},{"c":"p12","v":1.2,"x":0.463,"y":0.45},{"c":"p12","v":1.2,"x":0.585,"y":0.529},{"c":"p12","v":1.2,"x":0.756,"y":0.663},{"c":"p12","v":1.2,"x":0.847,"y":0.784},{"c":"p12","v":1.2,"x":0.89,"y":0.867},{"c":"p12","v":1.2,"x":0.878,"y":0.899},{"c":"p12","v":1.2,"x":0.811,"y":0.945},{"c":"p12","v":1.2,"x":0.683,"y":0.922},{"c":"p12","v":1.2,"x":0.585,"y":0.894},{"c":"p12","v":1.2,"x":0.463,"y":0.829},{"c":"p12","v":1.2,"x":0.378,"y":0.746},{"c":"p12","v":1.2,"x":0.329,"y":0.626},{"c":"p12","v":1.2,"x":0.317,"y":0.524},
{"c":"p13","v":1.3,"x":0.423,"y":0.589},{"c":"p13","v":1.3,"x":0.439,"y":0.524},{"c":"p13","v":1.3,"x":0.463,"y":0.496},{"c":"p13","v":1.3,"x":0.61,"y":0.552},{"c":"p13","v":1.3,"x":0.756,"y":0.681},{"c":"p13","v":1.3,"x":0.829,"y":0.783},{"c":"p13","v":1.3,"x":0.851,"y":0.839},{"c":"p13","v":1.3,"x":0.835,"y":0.871},{"c":"p13","v":1.3,"x":0.805,"y":0.894},{"c":"p13","v":1.3,"x":0.683,"y":0.899},{"c":"p13","v":1.3,"x":0.561,"y":0.857},{"c":"p13","v":1.3,"x":0.463,"y":0.783},{"c":"p13","v":1.3,"x":0.433,"y":0.691},{"c":"p13","v":1.3,"x":0.423,"y":0.589},
{"c":"p14","v":1.4,"x":0.51,"y":0.644},{"c":"p14","v":1.4,"x":0.522,"y":0.589},{"c":"p14","v":1.4,"x":0.555,"y":0.556},{"c":"p14","v":1.4,"x":0.61,"y":0.575},{"c":"p14","v":1.4,"x":0.707,"y":0.644},{"c":"p14","v":1.4,"x":0.781,"y":0.719},{"c":"p14","v":1.4,"x":0.811,"y":0.783},{"c":"p14","v":1.4,"x":0.805,"y":0.825},{"c":"p14","v":1.4,"x":0.744,"y":0.862},{"c":"p14","v":1.4,"x":0.695,"y":0.848},{"c":"p14","v":1.4,"x":0.598,"y":0.783},{"c":"p14","v":1.4,"x":0.524,"y":0.7},{"c":"p14","v":1.4,"x":0.51,"y":0.644},
{"c":"p15","v":1.5,"x":0.591,"y":0.691},{"c":"p15","v":1.5,"x":0.61,"y":0.635},{"c":"p15","v":1.5,"x":0.677,"y":0.658},{"c":"p15","v":1.5,"x":0.738,"y":0.714},{"c":"p15","v":1.5,"x":0.754,"y":0.769},{"c":"p15","v":1.5,"x":0.738,"y":0.813},{"c":"p15","v":1.5,"x":0.671,"y":0.802},{"c":"p15","v":1.5,"x":0.616,"y":0.756},{"c":"p15","v":1.5,"x":0.598,"y":0.719},{"c":"p15","v":1.5,"x":0.591,"y":0.691},
{"c":"strip","v":1.6,"x":0.011,"y":0.339},{"c":"strip","v":1.6,"x":0.043,"y":0.339},{"c":"strip","v":1.6,"x":0.043,"y":0.904},{"c":"strip","v":1.6,"x":0.011,"y":0.904}
],
"bLabels":[
{"t":1,"label":"0.2","x":1.37,"y":0.79,"a":-1},{"t":1,"label":"0.2","x":3.277,"y":0.658,"a":0},
{"t":2,"label":"0.5","x":1.37,"y":0.834,"a":0},{"t":2,"label":"0.3","x":3.277,"y":0.793,"a":0},
{"t":3,"label":"0.7","x":1.37,"y":0.88,"a":0},{"t":3,"label":"0.7","x":3.277,"y":0.834,"a":0},{"t":3,"label":"0.6","x":0.339,"y":0.293,"a":-8},{"t":3,"label":"0.4","x":0.469,"y":0.288,"a":-5},{"t":3,"label":"1.1","x":0.524,"y":0.431,"a":-5},{"t":3,"label":"0.6","x":2.147,"y":0.99,"a":0},
{"t":4,"label":"0.9","x":0.067,"y":0.982,"a":0},{"t":4,"label":"0.6","x":0.262,"y":0.987,"a":0},{"t":4,"label":"0.8","x":0.427,"y":0.982,"a":0},{"t":4,"label":"1.2","x":0.512,"y":0.857,"a":-25},{"t":4,"label":"1.3","x":0.746,"y":0.9,"a":0},{"t":4,"label":"0.1","x":0.524,"y":0.172,"a":-15},{"t":4,"label":"0.8","x":1.146,"y":0.904,"a":-10},{"t":4,"label":"0.9","x":1.37,"y":0.978,"a":0},{"t":4,"label":"0","x":1.372,"y":0.232,"a":5},{"t":4,"label":"-0.2","x":1.567,"y":0.45,"a":-12},{"t":4,"label":"-0.1","x":1.799,"y":0.334,"a":-5},{"t":4,"label":"0.9","x":1.842,"y":0.982,"a":0},{"t":4,"label":"0.6","x":2.147,"y":0.848,"a":0},{"t":4,"label":"0.8","x":2.306,"y":0.984,"a":0},{"t":4,"label":"0.4","x":2.301,"y":0.779,"a":3},{"t":4,"label":"0.1","x":2.306,"y":0.626,"a":1},{"t":4,"label":"0","x":1.971,"y":0.632,"a":7},{"t":4,"label":"0.8","x":3.057,"y":0.896,"a":0},{"t":4,"label":"0.9","x":3.277,"y":0.945,"a":0},{"t":4,"label":"0.9","x":3.759,"y":0.984,"a":0},{"t":4,"label":"0","x":3.759,"y":0.508,"a":0},{"t":4,"label":"0","x":3.277,"y":0.207,"a":0}
],
"bFrame":[{"x":0.011,"y":0,"x2":4,"y2":1}],
"cContours":[
{"c":"base","v":0,"x":0.0066,"y":0},{"c":"base","v":0,"x":4,"y":0},{"c":"base","v":0,"x":4,"y":1},{"c":"base","v":0,"x":0.0066,"y":1},
{"c":"m0","v":-0.2,"x":0.024,"y":0},{"c":"m0","v":-0.2,"x":0.024,"y":0.024},{"c":"m0","v":-0.2,"x":0.043,"y":0.043},{"c":"m0","v":-0.2,"x":0.093,"y":0.031},{"c":"m0","v":-0.2,"x":0.149,"y":0.052},{"c":"m0","v":-0.2,"x":0.242,"y":0.08},{"c":"m0","v":-0.2,"x":0.316,"y":0.09},{"c":"m0","v":-0.2,"x":0.44,"y":0.142},{"c":"m0","v":-0.2,"x":0.515,"y":0.194},{"c":"m0","v":-0.2,"x":0.552,"y":0.237},{"c":"m0","v":-0.2,"x":0.639,"y":0.303},{"c":"m0","v":-0.2,"x":0.751,"y":0.374},{"c":"m0","v":-0.2,"x":1.036,"y":0.563},{"c":"m0","v":-0.2,"x":1.123,"y":0.616},{"c":"m0","v":-0.2,"x":1.222,"y":0.66},{"c":"m0","v":-0.2,"x":1.322,"y":0.687},{"c":"m0","v":-0.2,"x":1.42,"y":0.691},{"c":"m0","v":-0.2,"x":1.533,"y":0.682},{"c":"m0","v":-0.2,"x":1.645,"y":0.658},{"c":"m0","v":-0.2,"x":1.781,"y":0.616},{"c":"m0","v":-0.2,"x":1.89,"y":0.568},{"c":"m0","v":-0.2,"x":2.068,"y":0.469},{"c":"m0","v":-0.2,"x":2.225,"y":0.385},{"c":"m0","v":-0.2,"x":2.39,"y":0.313},{"c":"m0","v":-0.2,"x":2.562,"y":0.256},{"c":"m0","v":-0.2,"x":2.748,"y":0.213},{"c":"m0","v":-0.2,"x":2.949,"y":0.17},{"c":"m0","v":-0.2,"x":3.078,"y":0.147},{"c":"m0","v":-0.2,"x":3.164,"y":0.123},{"c":"m0","v":-0.2,"x":3.35,"y":0.082},{"c":"m0","v":-0.2,"x":3.393,"y":0.049},{"c":"m0","v":-0.2,"x":3.178,"y":0.024},{"c":"m0","v":-0.2,"x":3.0,"y":0},
{"c":"m2","v":-0.4,"x":0.912,"y":0.308},{"c":"m2","v":-0.4,"x":1.036,"y":0.497},{"c":"m2","v":-0.4,"x":1.123,"y":0.549},{"c":"m2","v":-0.4,"x":1.222,"y":0.587},{"c":"m2","v":-0.4,"x":1.315,"y":0.603},{"c":"m2","v":-0.4,"x":1.42,"y":0.592},{"c":"m2","v":-0.4,"x":1.464,"y":0.582},{"c":"m2","v":-0.4,"x":1.514,"y":0.549},{"c":"m2","v":-0.4,"x":1.545,"y":0.511},{"c":"m2","v":-0.4,"x":1.555,"y":0.478},{"c":"m2","v":-0.4,"x":1.539,"y":0.426},{"c":"m2","v":-0.4,"x":1.496,"y":0.388},{"c":"m2","v":-0.4,"x":1.42,"y":0.35},{"c":"m2","v":-0.4,"x":1.309,"y":0.317},{"c":"m2","v":-0.4,"x":1.185,"y":0.298},{"c":"m2","v":-0.4,"x":1.036,"y":0.289},{"c":"m2","v":-0.4,"x":0.949,"y":0.294},{"c":"m2","v":-0.4,"x":0.912,"y":0.308},
{"c":"p2","v":0.2,"x":0.0066,"y":0.15},{"c":"p2","v":0.2,"x":0.022,"y":0.161},{"c":"p2","v":0.2,"x":0.043,"y":0.175},{"c":"p2","v":0.2,"x":0.205,"y":0.189},{"c":"p2","v":0.2,"x":0.304,"y":0.213},{"c":"p2","v":0.2,"x":0.416,"y":0.246},{"c":"p2","v":0.2,"x":0.564,"y":0.317},{"c":"p2","v":0.2,"x":0.751,"y":0.44},{"c":"p2","v":0.2,"x":0.912,"y":0.549},{"c":"p2","v":0.2,"x":1.061,"y":0.649},{"c":"p2","v":0.2,"x":1.185,"y":0.715},{"c":"p2","v":0.2,"x":1.309,"y":0.748},{"c":"p2","v":0.2,"x":1.42,"y":0.765},{"c":"p2","v":0.2,"x":1.533,"y":0.762},{"c":"p2","v":0.2,"x":1.682,"y":0.739},{"c":"p2","v":0.2,"x":1.86,"y":0.72},{"c":"p2","v":0.2,"x":2.032,"y":0.677},{"c":"p2","v":0.2,"x":2.225,"y":0.639},{"c":"p2","v":0.2,"x":2.562,"y":0.589},{"c":"p2","v":0.2,"x":2.748,"y":0.568},{"c":"p2","v":0.2,"x":2.992,"y":0.549},{"c":"p2","v":0.2,"x":3.393,"y":0.53},{"c":"p2","v":0.2,"x":4,"y":0.523},{"c":"p2","v":0.2,"x":4,"y":1},{"c":"p2","v":0.2,"x":0.0066,"y":1},
{"c":"p4","v":0.4,"x":0.0066,"y":0.227},{"c":"p4","v":0.4,"x":0.105,"y":0.227},{"c":"p4","v":0.4,"x":0.254,"y":0.251},{"c":"p4","v":0.4,"x":0.354,"y":0.27},{"c":"p4","v":0.4,"x":0.539,"y":0.341},{"c":"p4","v":0.4,"x":0.713,"y":0.459},{"c":"p4","v":0.4,"x":0.875,"y":0.582},{"c":"p4","v":0.4,"x":1.036,"y":0.696},{"c":"p4","v":0.4,"x":1.234,"y":0.791},{"c":"p4","v":0.4,"x":1.309,"y":0.81},{"c":"p4","v":0.4,"x":1.42,"y":0.826},{"c":"p4","v":0.4,"x":1.533,"y":0.826},{"c":"p4","v":0.4,"x":1.682,"y":0.814},{"c":"p4","v":0.4,"x":1.86,"y":0.805},{"c":"p4","v":0.4,"x":2.032,"y":0.781},{"c":"p4","v":0.4,"x":2.218,"y":0.762},{"c":"p4","v":0.4,"x":2.576,"y":0.724},{"c":"p4","v":0.4,"x":2.748,"y":0.71},{"c":"p4","v":0.4,"x":3.121,"y":0.691},{"c":"p4","v":0.4,"x":3.393,"y":0.682},{"c":"p4","v":0.4,"x":4,"y":0.677},{"c":"p4","v":0.4,"x":4,"y":1},{"c":"p4","v":0.4,"x":0.0066,"y":1},
{"c":"p6","v":0.6,"x":0.0066,"y":0.26},{"c":"p6","v":0.6,"x":0.093,"y":0.26},{"c":"p6","v":0.6,"x":0.242,"y":0.279},{"c":"p6","v":0.6,"x":0.403,"y":0.346},{"c":"p6","v":0.6,"x":0.539,"y":0.374},{"c":"p6","v":0.6,"x":0.689,"y":0.488},{"c":"p6","v":0.6,"x":0.85,"y":0.611},{"c":"p6","v":0.6,"x":0.999,"y":0.734},{"c":"p6","v":0.6,"x":1.234,"y":0.857},{"c":"p6","v":0.6,"x":1.309,"y":0.881},{"c":"p6","v":0.6,"x":1.42,"y":0.887},{"c":"p6","v":0.6,"x":1.533,"y":0.885},{"c":"p6","v":0.6,"x":1.86,"y":0.876},{"c":"p6","v":0.6,"x":2.218,"y":0.848},{"c":"p6","v":0.6,"x":2.576,"y":0.824},{"c":"p6","v":0.6,"x":2.863,"y":0.81},{"c":"p6","v":0.6,"x":3.164,"y":0.798},{"c":"p6","v":0.6,"x":4,"y":0.793},{"c":"p6","v":0.6,"x":4,"y":1},{"c":"p6","v":0.6,"x":0.0066,"y":1},
{"c":"p8","v":0.8,"x":0.0066,"y":0.289},{"c":"p8","v":0.8,"x":0.105,"y":0.291},{"c":"p8","v":0.8,"x":0.242,"y":0.308},{"c":"p8","v":0.8,"x":0.391,"y":0.35},{"c":"p8","v":0.8,"x":0.552,"y":0.417},{"c":"p8","v":0.8,"x":0.689,"y":0.526},{"c":"p8","v":0.8,"x":0.813,"y":0.639},{"c":"p8","v":0.8,"x":0.962,"y":0.762},{"c":"p8","v":0.8,"x":1.036,"y":0.791},{"c":"p8","v":0.8,"x":1.123,"y":0.876},{"c":"p8","v":0.8,"x":1.222,"y":0.921},{"c":"p8","v":0.8,"x":1.309,"y":0.933},{"c":"p8","v":0.8,"x":1.42,"y":0.942},{"c":"p8","v":0.8,"x":1.781,"y":0.938},{"c":"p8","v":0.8,"x":1.924,"y":0.931},{"c":"p8","v":0.8,"x":2.218,"y":0.919},{"c":"p8","v":0.8,"x":2.748,"y":0.904},{"c":"p8","v":0.8,"x":3.149,"y":0.897},{"c":"p8","v":0.8,"x":4,"y":0.893},{"c":"p8","v":0.8,"x":4,"y":1},{"c":"p8","v":0.8,"x":0.0066,"y":1},
{"c":"p10","v":1.0,"x":0.0066,"y":0.331},{"c":"p10","v":1.0,"x":0.043,"y":0.331},{"c":"p10","v":1.0,"x":0.192,"y":0.341},{"c":"p10","v":1.0,"x":0.403,"y":0.393},{"c":"p10","v":1.0,"x":0.564,"y":0.478},{"c":"p10","v":1.0,"x":0.751,"y":0.601},{"c":"p10","v":1.0,"x":0.912,"y":0.734},{"c":"p10","v":1.0,"x":0.999,"y":0.838},{"c":"p10","v":1.0,"x":1.03,"y":0.928},{"c":"p10","v":1.0,"x":1.03,"y":1},{"c":"p10","v":1.0,"x":0.0066,"y":1},
{"c":"p12","v":1.2,"x":0.124,"y":0.829},{"c":"p12","v":1.2,"x":0.167,"y":0.866},{"c":"p12","v":1.2,"x":0.316,"y":0.909},{"c":"p12","v":1.2,"x":0.49,"y":0.947},{"c":"p12","v":1.2,"x":0.689,"y":0.956},{"c":"p12","v":1.2,"x":0.8,"y":0.947},{"c":"p12","v":1.2,"x":0.881,"y":0.928},{"c":"p12","v":1.2,"x":0.925,"y":0.895},{"c":"p12","v":1.2,"x":0.933,"y":0.848},{"c":"p12","v":1.2,"x":0.912,"y":0.791},{"c":"p12","v":1.2,"x":0.813,"y":0.687},{"c":"p12","v":1.2,"x":0.689,"y":0.592},{"c":"p12","v":1.2,"x":0.539,"y":0.488},{"c":"p12","v":1.2,"x":0.403,"y":0.431},{"c":"p12","v":1.2,"x":0.291,"y":0.404},{"c":"p12","v":1.2,"x":0.242,"y":0.412},{"c":"p12","v":1.2,"x":0.18,"y":0.455},{"c":"p12","v":1.2,"x":0.142,"y":0.507},{"c":"p12","v":1.2,"x":0.111,"y":0.62},{"c":"p12","v":1.2,"x":0.108,"y":0.715},{"c":"p12","v":1.2,"x":0.124,"y":0.829},
{"c":"p14","v":1.4,"x":0.242,"y":0.649},{"c":"p14","v":1.4,"x":0.316,"y":0.829},{"c":"p14","v":1.4,"x":0.366,"y":0.866},{"c":"p14","v":1.4,"x":0.515,"y":0.904},{"c":"p14","v":1.4,"x":0.651,"y":0.919},{"c":"p14","v":1.4,"x":0.8,"y":0.9},{"c":"p14","v":1.4,"x":0.85,"y":0.866},{"c":"p14","v":1.4,"x":0.863,"y":0.829},{"c":"p14","v":1.4,"x":0.838,"y":0.772},{"c":"p14","v":1.4,"x":0.739,"y":0.658},{"c":"p14","v":1.4,"x":0.602,"y":0.563},{"c":"p14","v":1.4,"x":0.49,"y":0.511},{"c":"p14","v":1.4,"x":0.409,"y":0.495},{"c":"p14","v":1.4,"x":0.341,"y":0.516},{"c":"p14","v":1.4,"x":0.279,"y":0.573},{"c":"p14","v":1.4,"x":0.242,"y":0.649},
{"c":"p16","v":1.6,"x":0.382,"y":0.71},{"c":"p16","v":1.6,"x":0.421,"y":0.781},{"c":"p16","v":1.6,"x":0.502,"y":0.838},{"c":"p16","v":1.6,"x":0.602,"y":0.866},{"c":"p16","v":1.6,"x":0.732,"y":0.868},{"c":"p16","v":1.6,"x":0.776,"y":0.838},{"c":"p16","v":1.6,"x":0.792,"y":0.8},{"c":"p16","v":1.6,"x":0.763,"y":0.724},{"c":"p16","v":1.6,"x":0.676,"y":0.653},{"c":"p16","v":1.6,"x":0.552,"y":0.587},{"c":"p16","v":1.6,"x":0.496,"y":0.585},{"c":"p16","v":1.6,"x":0.434,"y":0.611},{"c":"p16","v":1.6,"x":0.397,"y":0.653},{"c":"p16","v":1.6,"x":0.382,"y":0.71},
{"c":"p18","v":1.8,"x":0.552,"y":0.739},{"c":"p18","v":1.8,"x":0.577,"y":0.776},{"c":"p18","v":1.8,"x":0.608,"y":0.791},{"c":"p18","v":1.8,"x":0.676,"y":0.715},{"c":"p18","v":1.8,"x":0.608,"y":0.693},{"c":"p18","v":1.8,"x":0.571,"y":0.71},{"c":"p18","v":1.8,"x":0.552,"y":0.739},
{"c":"strip","v":2.0,"x":0.025,"y":0.336},{"c":"strip","v":2.0,"x":0.043,"y":0.336},{"c":"strip","v":2.0,"x":0.043,"y":0.739},{"c":"strip","v":2.0,"x":0.025,"y":0.739}
],
"cLabels":[
{"t":1,"label":"0.2","x":0.484,"y":0.26,"a":-5},{"t":1,"label":"1.2","x":0.304,"y":0.914,"a":5},{"t":1,"label":"0.8","x":0.229,"y":0.975,"a":0},{"t":1,"label":"0.6","x":0.428,"y":0.966,"a":0},{"t":1,"label":"1.0","x":0.037,"y":0.97,"a":-90},
{"t":2,"label":"0.8","x":0.037,"y":0.84,"a":-90},{"t":2,"label":"1","x":0.105,"y":0.327,"a":0},{"t":2,"label":"1.4","x":0.269,"y":0.762,"a":-30},{"t":2,"label":"1.8","x":0.676,"y":0.786,"a":30},{"t":2,"label":"0.8","x":0.478,"y":0.384,"a":-6},{"t":2,"label":"-0.2","x":0.9,"y":0.379,"a":-20},{"t":2,"label":"0.4","x":1.173,"y":0.753,"a":-15},{"t":2,"label":"0.4","x":1.371,"y":0.999,"a":0},{"t":2,"label":"0.6","x":1.371,"y":0.871,"a":-3},{"t":2,"label":"0","x":1.616,"y":0.668,"a":5},{"t":2,"label":"0.8","x":1.843,"y":0.97,"a":0},{"t":2,"label":"0.2","x":2.147,"y":0.98,"a":0},{"t":2,"label":"0.8","x":2.304,"y":0.914,"a":0},{"t":2,"label":"0.2","x":2.304,"y":0.63,"a":4},{"t":2,"label":"0.4","x":3.275,"y":0.999,"a":0},{"t":2,"label":"0.6","x":3.278,"y":0.8,"a":0},{"t":2,"label":"0.4","x":3.056,"y":0.696,"a":0},{"t":2,"label":"0.8","x":3.758,"y":0.99,"a":0},{"t":2,"label":"0","x":3.275,"y":0.04,"a":0}
],
"cFrame":[{"x":0.0066,"y":0,"x2":3.998,"y2":1}],
"aCaption":[{"label":"(","x":1.227,"y":-0.979},{"label":")","x":1.332,"y":-0.979},{"label":"no particle, St = 0.0","x":1.401,"y":-0.979}],
"aCaptionBold":[{"label":"a","x":1.27,"y":-0.979}],
"bCaption":[{"label":"(","x":1.451,"y":-0.961},{"label":")","x":1.556,"y":-0.961},{"label":"St = 0.0002","x":1.625,"y":-0.961}],
"bCaptionBold":[{"label":"b","x":1.494,"y":-0.961}],
"cCaption":[{"label":"(","x":1.519,"y":-0.875},{"label":")","x":1.616,"y":-0.875},{"label":"St = 43.6","x":1.685,"y":-0.875}],
"cCaptionBold":[{"label":"c","x":1.562,"y":-0.875}]
},
"spacing":375,
"bounds":"flush",
"resolve":{"scale":{"fill":"independent"}},
"vconcat":[
{"width":2728,"height":334,
"encoding":{
"x":{"field":"x","type":"quantitative","scale":{"domain":[-0.03,4.0616],"nice":false,"zero":false},"axis":{"values":[1,2,3,4],"title":"x/R(/)","labelBaseline":"middle","labelPadding":72,"titleX":1353,"titleY":159}},
"y":{"field":"y","type":"quantitative","scale":{"domain":[0,1],"nice":false,"zero":false},"axis":{"values":[0,0.5,1],"title":"r/R(/)","labelPadding":18,"titleX":-212,"titleY":167}}},
"layer":[
{"data":{"name":"aContours"},"mark":"line","encoding":{"detail":{"field":"c"},"order":{"value":null},"fill":{"field":"v","type":"ordinal","legend":null,"scale":{"domain":[-0.3,-0.2,-0.1,0,0.1,0.2,0.3,0.4,0.5,0.6,0.7,0.8,0.9,1.0,1.1,1.2,1.3,1.4,1.5,1.6],"range":["#0000ff","#0030ff","#0068ff","#00a8ff","#00e0ff","#00ffe0","#00ffa8","#00ff70","#00ff38","#00ff00","#38ff00","#70ff00","#a8ff00","#e0ff00","#ffe000","#ffa800","#ff7000","#ff3800","#ff0000","#cc0000"]}}}},
{"data":{"name":"aLabels"},"transform":[{"filter":"datum.t==1"},{"calculate":"length(datum.label)","as":"n"}],"layer":[
{"mark":"point","encoding":{"shape":{"field":"n","type":"ordinal","legend":null,"scale":{"domain":[1,3,4],"range":["M-0.667,-1H0.667V1H-0.667Z","M-1.508,-1H1.508V1H-1.508Z","M-1.894,-1H1.894V1H-1.894Z"]}},"angle":{"field":"a","type":"quantitative","scale":null}}},
{"mark":{"type":"text","baseline":"middle"},"encoding":{"text":{"field":"label"},"angle":{"field":"a","type":"quantitative","scale":null}}}]},
{"data":{"name":"aLabels"},"transform":[{"filter":"datum.t==2"},{"calculate":"length(datum.label)","as":"n"}],"layer":[
{"mark":"point","encoding":{"shape":{"field":"n","type":"ordinal","legend":null,"scale":{"domain":[1,3,4],"range":["M-0.667,-1H0.667V1H-0.667Z","M-1.508,-1H1.508V1H-1.508Z","M-1.894,-1H1.894V1H-1.894Z"]}},"angle":{"field":"a","type":"quantitative","scale":null}}},
{"mark":{"type":"text","baseline":"middle"},"encoding":{"text":{"field":"label"},"angle":{"field":"a","type":"quantitative","scale":null}}}]},
{"data":{"name":"xMinor"},"transform":[{"calculate":"0","as":"y"},{"calculate":"0.122","as":"y2"}],"mark":{"type":"rule","stroke":"black","strokeWidth":3},"encoding":{"y2":{"field":"y2"}}},
{"data":{"name":"xMajor"},"transform":[{"calculate":"0","as":"y"},{"calculate":"0.195","as":"y2"}],"mark":{"type":"rule","stroke":"black","strokeWidth":12,"strokeCap":"round"},"encoding":{"y2":{"field":"y2"}}},
{"data":{"name":"yMinor"},"transform":[{"calculate":"0.0045","as":"x"},{"calculate":"0.063","as":"x2"}],"mark":{"type":"rule","stroke":"black","strokeWidth":3},"encoding":{"x2":{"field":"x2"}}},
{"data":{"name":"yMajor"},"transform":[{"calculate":"0.0045","as":"x"},{"calculate":"0.105","as":"x2"}],"mark":{"type":"rule","stroke":"black","strokeWidth":12,"strokeCap":"round"},"encoding":{"x2":{"field":"x2"}}},
{"data":{"name":"aMask"},"mark":{"type":"rect","fill":"white"},"encoding":{"x2":{"field":"x2"},"y2":{"field":"y2"}}},
{"data":{"name":"aFrame"},"mark":{"type":"rect","fill":null,"stroke":"black","strokeWidth":15,"strokeJoin":"round"},"encoding":{"x2":{"field":"x2"},"y2":{"field":"y2"}}},
{"data":{"name":"aCaption"},"mark":{"type":"text","fontSize":87,"align":"left","baseline":"alphabetic"},"encoding":{"text":{"field":"label"}}},
{"data":{"name":"aCaptionBold"},"mark":{"type":"text","fontSize":87,"fontWeight":"bold","align":"left","baseline":"alphabetic"},"encoding":{"text":{"field":"label"}}}
]},
{"width":2728,"height":409,
"encoding":{
"x":{"field":"x","type":"quantitative","scale":{"domain":[-0.0011,4.0122],"nice":false,"zero":false},"axis":{"values":[1,2,3,4],"title":"x/R(/)","labelBaseline":"middle","labelPadding":81,"titleX":1364,"titleY":175}},
"y":{"field":"y","type":"quantitative","scale":{"domain":[0,1.1361],"nice":false,"zero":false},"axis":{"values":[0,0.5,1],"title":"r/R(/)","labelPadding":16,"titleX":-227,"titleY":229}}},
"layer":[
{"data":{"name":"bContours"},"mark":"line","encoding":{"detail":{"field":"c"},"order":{"value":null},"fill":{"field":"v","type":"ordinal","legend":null,"scale":{"domain":[-0.3,-0.2,-0.1,0,0.1,0.2,0.3,0.4,0.5,0.6,0.7,0.8,0.9,1.0,1.1,1.2,1.3,1.4,1.5,1.6],"range":["#0000ff","#0030ff","#0068ff","#00a8ff","#00e0ff","#00ffe0","#00ffa8","#00ff70","#00ff38","#00ff00","#38ff00","#70ff00","#a8ff00","#e0ff00","#ffe000","#ffa800","#ff7000","#ff3800","#ff0000","#cc0000"]}}}},
{"data":{"name":"bLabels"},"transform":[{"filter":"datum.t==1"},{"calculate":"length(datum.label)","as":"n"}],"layer":[
{"mark":"point","encoding":{"shape":{"field":"n","type":"ordinal","legend":null,"scale":{"domain":[1,3,4],"range":["M-0.667,-1H0.667V1H-0.667Z","M-1.508,-1H1.508V1H-1.508Z","M-1.894,-1H1.894V1H-1.894Z"]}},"angle":{"field":"a","type":"quantitative","scale":null}}},
{"mark":{"type":"text","baseline":"middle"},"encoding":{"text":{"field":"label"},"angle":{"field":"a","type":"quantitative","scale":null}}}]},
{"data":{"name":"bLabels"},"transform":[{"filter":"datum.t==2"},{"calculate":"length(datum.label)","as":"n"}],"layer":[
{"mark":"point","encoding":{"shape":{"field":"n","type":"ordinal","legend":null,"scale":{"domain":[1,3,4],"range":["M-0.667,-1H0.667V1H-0.667Z","M-1.508,-1H1.508V1H-1.508Z","M-1.894,-1H1.894V1H-1.894Z"]}},"angle":{"field":"a","type":"quantitative","scale":null}}},
{"mark":{"type":"text","baseline":"middle"},"encoding":{"text":{"field":"label"},"angle":{"field":"a","type":"quantitative","scale":null}}}]},
{"data":{"name":"bLabels"},"transform":[{"filter":"datum.t==3"},{"calculate":"length(datum.label)","as":"n"}],"layer":[
{"mark":"point","encoding":{"shape":{"field":"n","type":"ordinal","legend":null,"scale":{"domain":[1,3,4],"range":["M-0.667,-1H0.667V1H-0.667Z","M-1.508,-1H1.508V1H-1.508Z","M-1.894,-1H1.894V1H-1.894Z"]}},"angle":{"field":"a","type":"quantitative","scale":null}}},
{"mark":{"type":"text","baseline":"middle"},"encoding":{"text":{"field":"label"},"angle":{"field":"a","type":"quantitative","scale":null}}}]},
{"data":{"name":"bLabels"},"transform":[{"filter":"datum.t==4"},{"calculate":"length(datum.label)","as":"n"}],"layer":[
{"mark":"point","encoding":{"shape":{"field":"n","type":"ordinal","legend":null,"scale":{"domain":[1,3,4],"range":["M-0.667,-1H0.667V1H-0.667Z","M-1.508,-1H1.508V1H-1.508Z","M-1.894,-1H1.894V1H-1.894Z"]}},"angle":{"field":"a","type":"quantitative","scale":null}}},
{"mark":{"type":"text","baseline":"middle"},"encoding":{"text":{"field":"label"},"angle":{"field":"a","type":"quantitative","scale":null}}}]},
{"data":{"name":"xMinor"},"transform":[{"calculate":"0","as":"y"},{"calculate":"0.119","as":"y2"}],"mark":{"type":"rule","stroke":"black","strokeWidth":3},"encoding":{"y2":{"field":"y2"}}},
{"data":{"name":"xMajor"},"transform":[{"calculate":"0","as":"y"},{"calculate":"0.195","as":"y2"}],"mark":{"type":"rule","stroke":"black","strokeWidth":12,"strokeCap":"round"},"encoding":{"y2":{"field":"y2"}}},
{"data":{"name":"yMinor"},"transform":[{"calculate":"0.011","as":"x"},{"calculate":"0.07","as":"x2"}],"mark":{"type":"rule","stroke":"black","strokeWidth":3},"encoding":{"x2":{"field":"x2"}}},
{"data":{"name":"yMajor"},"transform":[{"calculate":"0.011","as":"x"},{"calculate":"0.108","as":"x2"}],"mark":{"type":"rule","stroke":"black","strokeWidth":12,"strokeCap":"round"},"encoding":{"x2":{"field":"x2"}}},
{"data":{"name":"bMask"},"mark":{"type":"rect","fill":"white"},"encoding":{"x2":{"field":"x2"},"y2":{"field":"y2"}}},
{"data":{"name":"bFrame"},"mark":{"type":"rect","fill":null,"stroke":"black","strokeWidth":15,"strokeJoin":"round"},"encoding":{"x2":{"field":"x2"},"y2":{"field":"y2"}}},
{"data":{"name":"bCaption"},"mark":{"type":"text","fontSize":84,"align":"left","baseline":"alphabetic"},"encoding":{"text":{"field":"label"}}},
{"data":{"name":"bCaptionBold"},"mark":{"type":"text","fontSize":84,"fontWeight":"bold","align":"left","baseline":"alphabetic"},"encoding":{"text":{"field":"label"}}}
]},
{"width":2728,"height":448,
"encoding":{
"x":{"field":"x","type":"quantitative","scale":{"domain":[-0.0323,4.0515],"nice":false,"zero":false},"axis":{"values":[0,1,2,3,4],"title":"x/R(/)","labelBaseline":"middle","labelPadding":77,"titleX":1358,"titleY":171}},
"y":{"field":"y","type":"quantitative","scale":{"domain":[0,1.2727],"nice":false,"zero":false},"axis":{"values":[0.5,1],"title":"r/R(/)","labelPadding":12,"titleX":-212,"titleY":274}}},
"layer":[
{"data":{"name":"cContours"},"mark":"line","encoding":{"detail":{"field":"c"},"order":{"value":null},"fill":{"field":"v","type":"ordinal","legend":null,"scale":{"domain":[-0.4,-0.2,0,0.2,0.4,0.6,0.8,1.0,1.2,1.4,1.6,1.8,2.0],"range":["#0000ff","#0060ff","#00b8ff","#00ffe8","#00ff88","#10ff00","#33ff00","#8cff00","#e6ff00","#ffb800","#ff6000","#ff0000","#cc0000"]}}}},
{"data":{"name":"cLabels"},"transform":[{"filter":"datum.t==1"},{"calculate":"length(datum.label)","as":"n"}],"layer":[
{"mark":"point","encoding":{"shape":{"field":"n","type":"ordinal","legend":null,"scale":{"domain":[1,3,4],"range":["M-0.667,-1H0.667V1H-0.667Z","M-1.508,-1H1.508V1H-1.508Z","M-1.894,-1H1.894V1H-1.894Z"]}},"angle":{"field":"a","type":"quantitative","scale":null}}},
{"mark":{"type":"text","baseline":"middle"},"encoding":{"text":{"field":"label"},"angle":{"field":"a","type":"quantitative","scale":null}}}]},
{"data":{"name":"cLabels"},"transform":[{"filter":"datum.t==2"},{"calculate":"length(datum.label)","as":"n"}],"layer":[
{"mark":"point","encoding":{"shape":{"field":"n","type":"ordinal","legend":null,"scale":{"domain":[1,3,4],"range":["M-0.667,-1H0.667V1H-0.667Z","M-1.508,-1H1.508V1H-1.508Z","M-1.894,-1H1.894V1H-1.894Z"]}},"angle":{"field":"a","type":"quantitative","scale":null}}},
{"mark":{"type":"text","baseline":"middle"},"encoding":{"text":{"field":"label"},"angle":{"field":"a","type":"quantitative","scale":null}}}]},
{"data":{"name":"xMinor"},"transform":[{"calculate":"0","as":"y"},{"calculate":"0.122","as":"y2"}],"mark":{"type":"rule","stroke":"black","strokeWidth":3},"encoding":{"y2":{"field":"y2"}}},
{"data":{"name":"xMajor"},"transform":[{"calculate":"0","as":"y"},{"calculate":"0.195","as":"y2"}],"mark":{"type":"rule","stroke":"black","strokeWidth":12,"strokeCap":"round"},"encoding":{"y2":{"field":"y2"}}},
{"data":{"name":"yMinor"},"transform":[{"calculate":"0.0066","as":"x"},{"calculate":"0.06","as":"x2"}],"mark":{"type":"rule","stroke":"black","strokeWidth":3},"encoding":{"x2":{"field":"x2"}}},
{"data":{"name":"yMajor"},"transform":[{"calculate":"0.0066","as":"x"},{"calculate":"0.102","as":"x2"}],"mark":{"type":"rule","stroke":"black","strokeWidth":12,"strokeCap":"round"},"encoding":{"x2":{"field":"x2"}}},
{"data":{"name":"cMask"},"mark":{"type":"rect","fill":"white"},"encoding":{"x2":{"field":"x2"},"y2":{"field":"y2"}}},
{"data":{"name":"cFrame"},"mark":{"type":"rect","fill":null,"stroke":"black","strokeWidth":15,"strokeJoin":"round"},"encoding":{"x2":{"field":"x2"},"y2":{"field":"y2"}}},
{"data":{"name":"cCaption"},"mark":{"type":"text","fontSize":84,"align":"left","baseline":"alphabetic"},"encoding":{"text":{"field":"label"}}},
{"data":{"name":"cCaptionBold"},"mark":{"type":"text","fontSize":84,"fontWeight":"bold","align":"left","baseline":"alphabetic"},"encoding":{"text":{"field":"label"}}}
]}
]
}
